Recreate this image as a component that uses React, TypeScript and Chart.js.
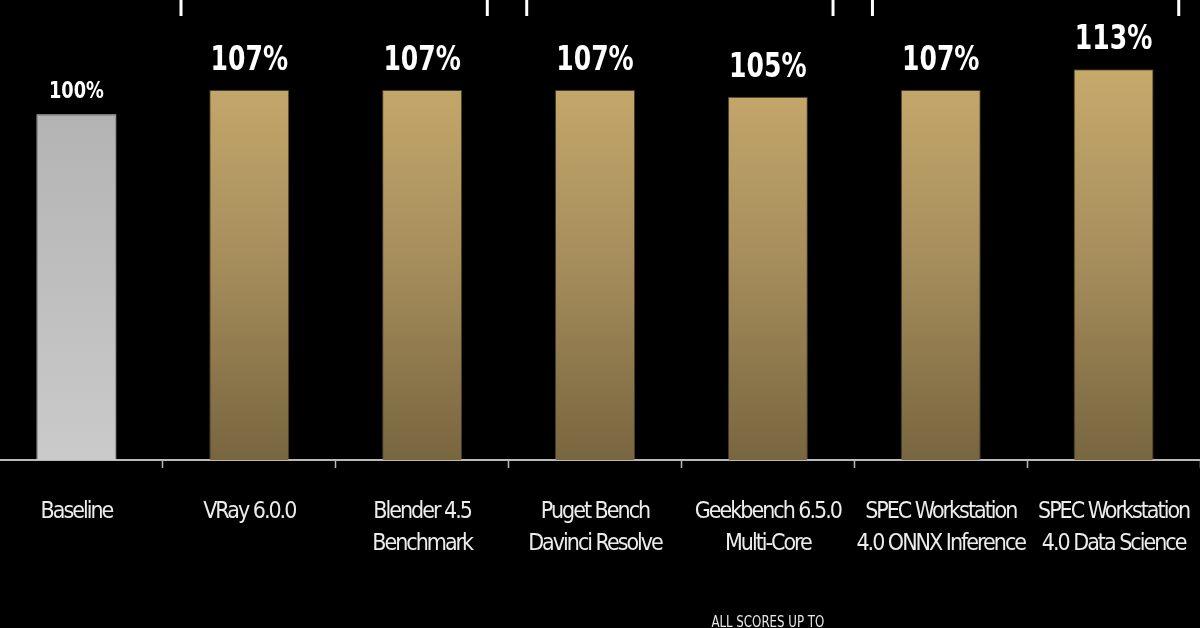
import React, { useEffect, useRef } from "react";
import { Chart, registerables } from "chart.js";

Chart.register(...registerables);

const categories: string[][] = [
  ["Baseline"],
  ["VRay 6.0.0"],
  ["Blender 4.5", "Benchmark"],
  ["Puget Bench", "Davinci Resolve"],
  ["Geekbench 6.5.0", "Multi-Core"],
  ["SPEC Workstation", "4.0 ONNX Inference"],
  ["SPEC Workstation", "4.0 Data Science"],
];
const values: number[] = [100, 107, 107, 107, 105, 107, 113];
const valueLabels: string[] = ["100%", "107%", "107%", "107%", "105%", "107%", "113%"];
const bracketGroups: number[][] = [
  [1, 2],
  [3, 4],
  [5, 6],
];
const footnote = "ALL SCORES UP TO";

const FONT = "'DejaVu Sans Condensed', 'Liberation Sans Narrow', 'Roboto', sans-serif";
const SPACING = "-2px";

export default function App() {
  const ref = useRef<HTMLCanvasElement | null>(null);

  useEffect(() => {
    const canvas = ref.current;
    if (!canvas) return;

    const narrowText = (ctx: any, text: string, x: number, y: number, sx: number) => {
      ctx.save();
      ctx.translate(x, y);
      ctx.scale(sx, 1);
      ctx.fillText(text, 0, 0);
      ctx.restore();
    };

    const overlay = {
      id: "overlay",
      beforeInit(chart: any) {
        chart.ctx.letterSpacing = SPACING;
      },
      beforeUpdate(chart: any) {
        chart.ctx.letterSpacing = SPACING;
      },
      beforeDraw(chart: any) {
        chart.ctx.letterSpacing = SPACING;
      },
      afterDatasetsDraw(chart: any) {
        const ctx = chart.ctx;
        const meta = chart.getDatasetMeta(0);
        ctx.save();
        ctx.letterSpacing = "0px";
        ctx.fillStyle = "#ffffff";
        ctx.textAlign = "center";
        ctx.textBaseline = "alphabetic";
        meta.data.forEach((bar: any, i: number) => {
          const isBase = i === 0;
          ctx.font = isBase ? `bold 23px ${FONT}` : `bold 34px ${FONT}`;
          narrowText(ctx, valueLabels[i], bar.x, bar.y - (isBase ? 16 : 20), isBase ? 0.86 : 0.82);
        });
        ctx.restore();
      },
      afterDraw(chart: any) {
        const ctx = chart.ctx;
        const xs = chart.scales.x;
        const w = xs.getPixelForValue(1) - xs.getPixelForValue(0);
        ctx.save();
        ctx.letterSpacing = "0px";
        ctx.strokeStyle = "#ffffff";
        ctx.lineWidth = 3;
        bracketGroups.forEach((g) => {
          const l = xs.getPixelForValue(g[0]) - 0.395 * w;
          const r = xs.getPixelForValue(g[1]) + 0.377 * w;
          [l, r].forEach((x) => {
            ctx.beginPath();
            ctx.moveTo(x, 0);
            ctx.lineTo(x, 16);
            ctx.stroke();
          });
        });
        ctx.fillStyle = "#e8e8e8";
        ctx.font = `16px ${FONT}`;
        ctx.textAlign = "center";
        ctx.textBaseline = "alphabetic";
        narrowText(ctx, footnote, xs.getPixelForValue(4), 627, 0.82);
        ctx.restore();
      },
    };

    const makeGrad = (ctx: any, isBase: boolean) => {
      const chart = ctx.chart;
      const area = chart.chartArea;
      if (!area) return isBase ? "#bdbdbd" : "#a89060";
      const g = chart.ctx.createLinearGradient(0, 60, 0, area.bottom);
      if (isBase) {
        g.addColorStop(0, "#b0b0b0");
        g.addColorStop(1, "#cacaca");
      } else {
        g.addColorStop(0, "#c8ab6c");
        g.addColorStop(0.5, "#a68d5c");
        g.addColorStop(1, "#78663f");
      }
      return g;
    };

    const chart = new Chart(canvas, {
      type: "bar",
      data: {
        labels: categories,
        datasets: [
          {
            data: values,
            backgroundColor: (c: any) => makeGrad(c, c.dataIndex === 0),
            borderColor: (c: any) => (c.dataIndex === 0 ? "#dcdcdc" : "rgba(200,172,112,0.35)"),
            borderWidth: 1,
            borderSkipped: "bottom",
            barPercentage: 0.463,
            categoryPercentage: 1,
          },
        ],
      },
      options: {
        animation: false,
        responsive: false,
        maintainAspectRatio: false,
        layout: { padding: 0 },
        plugins: { legend: { display: false }, tooltip: { enabled: false } },
        scales: {
          y: {
            display: false,
            min: 0,
            max: 133,
          },
          x: {
            offset: true,
            afterFit: (s: any) => {
              s.height = 168;
              s.paddingLeft = 0;
              s.paddingRight = 0;
            },
            border: { display: true, color: "#b8b8b8", width: 2 },
            grid: {
              display: true,
              offset: true,
              drawOnChartArea: false,
              drawTicks: true,
              tickLength: 8,
              color: "#b8b8b8",
              tickWidth: 1.5,
            },
            ticks: {
              color: "#ececec",
              font: { family: FONT, size: 23, lineHeight: 1.39 },
              padding: 28,
              maxRotation: 0,
              autoSkip: false,
            },
          },
        },
      },
      plugins: [overlay],
    });

    return () => chart.destroy();
  }, []);

  return (
    <div style={{ position: "fixed", left: 0, top: 0, width: 1200, height: 628, background: "#000", overflow: "hidden" }}>
      <canvas ref={ref} width={1210} height={628} style={{ position: "absolute", left: -10, top: 0, width: 1210, height: 628 }} />
    </div>
  );
}
